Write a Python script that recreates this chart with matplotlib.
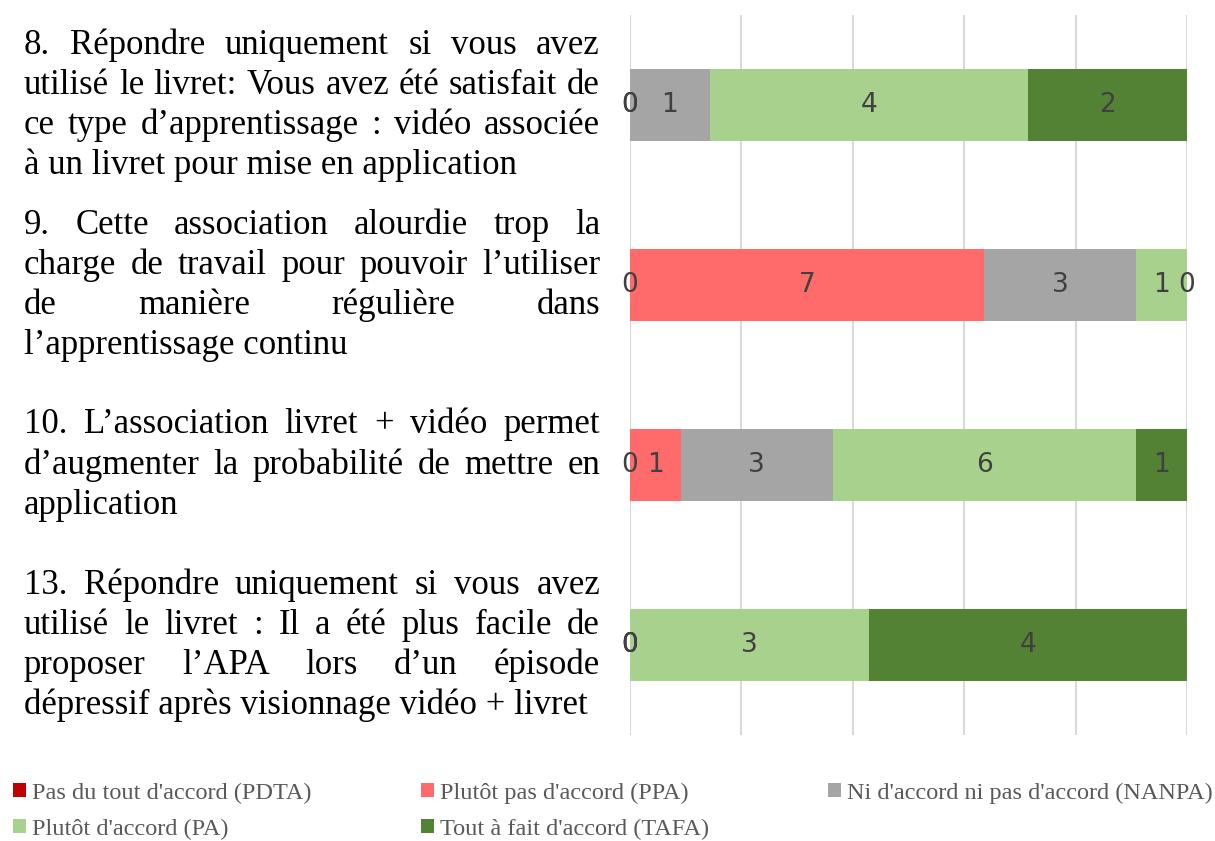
import matplotlib
matplotlib.use("Agg")
import matplotlib.pyplot as plt
import numpy as np

# donnees
questions = [
    ["8. Répondre uniquement si vous avez",
     "utilisé le livret: Vous avez été satisfait de",
     "ce type d\u2019apprentissage : vidéo associée",
     "à un livret pour mise en application"],
    ["9. Cette association alourdie trop la",
     "charge de travail pour pouvoir l\u2019utiliser",
     "de manière régulière dans",
     "l\u2019apprentissage continu"],
    ["10. L\u2019association livret + vidéo permet",
     "d\u2019augmenter la probabilité de mettre en",
     "application"],
    ["13. Répondre uniquement si vous avez",
     "utilisé le livret : Il a été plus facile de",
     "proposer l\u2019APA lors d\u2019un épisode",
     "dépressif après visionnage vidéo + livret"],
]
legend_labels = ["Pas du tout d'accord (PDTA)", "Plutôt pas d'accord (PPA)",
                 "Ni d'accord ni pas d'accord (NANPA)", "Plutôt d'accord (PA)",
                 "Tout à fait d'accord (TAFA)"]
pdta = [0, 0, 0, 0]
ppa = [0, 7, 1, 0]
nanpa = [1, 3, 3, 0]
pa = [4, 1, 6, 3]
tafa = [2, 0, 1, 4]
colors = ["#C00000", "#FF6B6B", "#A5A5A5", "#A9D18E", "#548235"]

series = np.array([pdta, ppa, nanpa, pa, tafa], dtype=float)
totals = series.sum(axis=0)
pct = series / totals

fig = plt.figure(figsize=(12.15, 8.41), dpi=100)
ax = fig.add_axes([630 / 1215, 1 - 735 / 841, 557 / 1215, 720 / 841])

y = np.arange(len(questions))
left = np.zeros(len(questions))
bars = []
for i in range(len(series)):
    b = ax.barh(y, pct[i], left=left, height=0.4, color=colors[i], label=legend_labels[i],
                edgecolor="none", zorder=2)
    bars.append(b)
    for j in range(len(questions)):
        ax.text(left[j] + pct[i][j] / 2, y[j], "%d" % series[i][j],
                ha="center", va="center", fontsize=19, color="#404040",
                family="DejaVu Sans", zorder=3)
    left = left + pct[i]

ax.set_xlim(0, 1)
ax.set_ylim(3.5, -0.5)
ax.set_xticks(np.linspace(0, 1, 6))
ax.grid(axis="x", color="#D9D9D9", linewidth=1.5, zorder=0)
ax.tick_params(left=False, bottom=False, labelleft=False, labelbottom=False)
for s in ax.spines.values():
    s.set_visible(False)

# texte justifie
renderer = fig.canvas.get_renderer()
x0, x1 = 24 / 1215, 600 / 1215
fs = 25
line_h = 40 / 841
for j, lines in enumerate(questions):
    yc = ax.transData.transform((0, y[j]))[1] / fig.bbox.height
    ytop = yc + (len(lines) - 1) * line_h / 2
    for k, line in enumerate(lines):
        yy = ytop - k * line_h
        words = line.split(" ")
        if k == len(lines) - 1 or len(words) == 1:
            fig.text(x0, yy, line, fontsize=fs, family="Liberation Serif", va="center", ha="left")
            continue
        txts = [fig.text(0, yy, w, fontsize=fs, family="Liberation Serif", va="center", ha="left")
                for w in words]
        widths = [t.get_window_extent(renderer).width / fig.bbox.width for t in txts]
        gap = (x1 - x0 - sum(widths)) / (len(words) - 1)
        xx = x0
        for t, w in zip(txts, widths):
            t.set_x(xx)
            xx += w + gap

# legende, 3 colonnes remplies par ligne
leg_x = [13, 421, 828]
leg_y = [793, 829]
for i, (b, lab) in enumerate(zip(bars, legend_labels)):
    lx = leg_x[i % 3] / 1215
    ly = 1 - leg_y[i // 3] / 841
    lg = fig.legend([b], [lab], loc="center left", bbox_to_anchor=(lx, ly),
                    frameon=False, prop={"family": "Liberation Serif", "size": 17.5},
                    labelcolor="#595959", handlelength=0.55, handleheight=0.55,
                    handletextpad=0.25, borderaxespad=0, borderpad=0)

fig.savefig("out.png", dpi=100)
